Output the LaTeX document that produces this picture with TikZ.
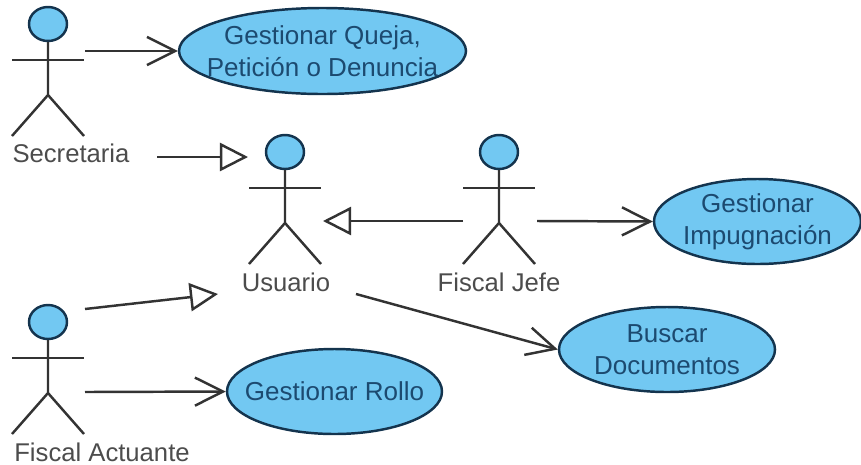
\documentclass[tikz,border=0pt]{standalone}
\usepackage{fontspec}
\setmainfont{Liberation Sans}
\usepackage{xcolor}
\usetikzlibrary{arrows.meta,shapes.geometric}
\definecolor{ucfill}{HTML}{72C8F2}
\definecolor{uctext}{HTML}{1C4A70}
\definecolor{lineink}{HTML}{333333}
\tikzset{
	usecase/.style={ellipse, draw=uctext!70!black, line width=1.4pt, fill=ucfill, text=uctext, align=center, inner ysep=0pt, inner xsep=-80pt, font=\fontsize{14.8}{18}\selectfont},
	head/.style={ellipse, draw=uctext!70!black, line width=1.4pt, fill=ucfill, inner sep=0pt, minimum width=38*0.02cm, minimum height=34*0.02cm},
	actorname/.style={text=black!70, inner sep=0pt, font=\fontsize{14.6}{18}\selectfont},
	assoc/.style={draw=lineink, line width=1.4pt, -{Straight Barb[length=16pt,width=16pt]}},
	general/.style={draw=lineink, line width=1.4pt, -{Triangle[open,length=16pt,width=16pt]}}
}
\begin{document}
\begin{tikzpicture}[x=0.02cm,y=-0.02cm]
\useasboundingbox (0,0) rectangle (861,464);
% actors
\foreach \x/\y/\name in {48/24/secretaria,285/152/usuario,499/152/jefe,48/322/actuante}{
	\node [head] (\name) at (\x,\y) {};
	\draw [lineink, line width=1.4pt] (\name.south) -- (\x,\y+71) -- (\x-36,\y+112);
	\draw [lineink, line width=1.4pt] (\x,\y+71) -- (\x+36,\y+112);
	\draw [lineink, line width=1.4pt] (\x-36,\y+36) -- (\x+36,\y+36);
}
\node [actorname] (lsecretaria) at (71,153) {Secretaria};
\node [actorname] (lusuario) at (286,282) {Usuario};
\node [actorname] (ljefe) at (499,282) {Fiscal Jefe};
\node [actorname] (lactuante) at (102,452) {Fiscal Actuante};

% use cases
\node [usecase, minimum width=287*0.02cm, minimum height=86*0.02cm] (queja) at (322.5,51) {Gestionar Queja,\\Petición o Denuncia};
\node [usecase, minimum width=207*0.02cm, minimum height=85*0.02cm] (impugnacion) at (757.5,221.5) {Gestionar\\Impugnación};
\node [usecase, minimum width=216*0.02cm, minimum height=85*0.02cm] (buscar) at (667,349.5) {Buscar\\Documentos};
\node [usecase, minimum width=215*0.02cm, minimum height=85*0.02cm] (rollo) at (334.5,391.5) {Gestionar Rollo};

% free ends
\coordinate (secretariaA) at (85,51);
\coordinate (secretariaG) at (157,157);
\coordinate (usuarioS) at (248,157);
\coordinate (jefeG) at (463,221);
\coordinate (usuarioJ) at (323,221);
\coordinate (jefeA) at (537,221);
\coordinate (actuanteG) at (85,309);
\coordinate (usuarioF) at (218,294);
\coordinate (actuanteA) at (85,392);
\coordinate (usuarioA) at (356,294);

\draw [assoc] (secretariaA) -- (queja.west);
\draw [assoc] (jefeA) -- (impugnacion.west);
\draw [assoc] (actuanteA) -- (rollo.west);
\draw [assoc] (usuarioA) -- (buscar.west);
\draw [general] (secretariaG) -- (usuarioS);
\draw [general] (jefeG) -- (usuarioJ);
\draw [general] (actuanteG) -- (usuarioF);
\end{tikzpicture}
\end{document}
